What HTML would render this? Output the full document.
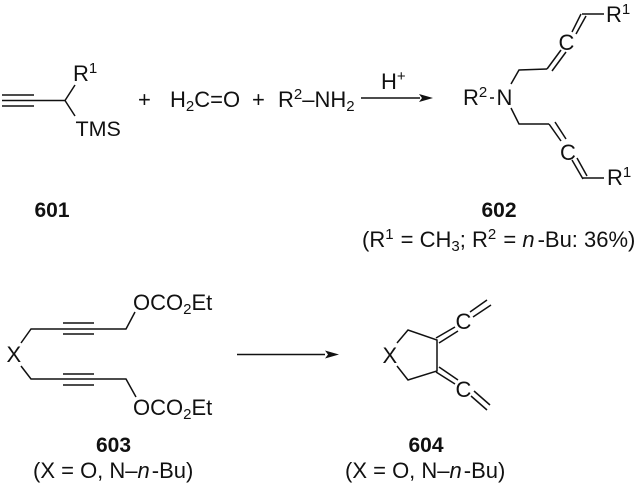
<!DOCTYPE html>
<html>
<head>
<meta charset="utf-8">
<style>
html,body{margin:0;padding:0;background:#fff;width:637px;height:486px;overflow:hidden}
svg{display:block}
text{font-family:"Liberation Sans",sans-serif;font-size:22px;fill:#111}
.b{font-weight:bold;font-size:21px}
.s{font-size:15px}
line,polyline{stroke:#111;stroke-width:1.5;fill:none}
</style>
</head>
<body>
<svg width="637" height="486" viewBox="0 0 637 486" xmlns="http://www.w3.org/2000/svg">
<!-- 601 -->
<line x1="2" y1="95" x2="34" y2="95"/>
<line x1="2" y1="100.500" x2="34" y2="100.500"/>
<line x1="2" y1="106" x2="34" y2="106"/>
<polyline points="34,100.500 65,100.500 75,85"/>
<line x1="65" y1="100.500" x2="75" y2="116"/>
<text x="73" y="81">R<tspan class="s" dy="-8">1</tspan></text>
<text x="75.500" y="136" style="font-size:21.500px">TMS</text>
<text x="138" y="107">+</text>
<text x="170" y="107">H<tspan class="s" dy="4">2</tspan><tspan dy="-4">C=O</tspan></text>
<text x="252" y="107">+</text>
<text x="278" y="107">R<tspan class="s" dy="-8">2</tspan><tspan dy="8">–NH</tspan><tspan class="s" dy="4">2</tspan></text>
<text x="34.500" y="217" class="b">601</text>
<!-- arrow 1 -->
<line x1="361" y1="98" x2="420" y2="98"/>
<polygon points="433,98 419,94 422,98 419,102" fill="#111"/>
<text x="381" y="89">H<tspan class="s" dy="-8">+</tspan></text>
<!-- 602 -->
<text x="463" y="105">R<tspan class="s" dy="-8">2</tspan></text>
<line x1="490" y1="98" x2="494" y2="98"/>
<text x="496.500" y="105">N</text>
<polyline points="511,84 519,70 547,69"/>
<line x1="547" y1="69" x2="561" y2="50"/>
<line x1="552" y1="71" x2="566" y2="52"/>
<text x="558.500" y="50">C</text>
<line x1="572" y1="32" x2="581" y2="14"/>
<line x1="576" y1="34" x2="586" y2="16"/>
<line x1="582" y1="14" x2="604" y2="14"/>
<text x="606" y="22">R<tspan class="s" dy="-8">1</tspan></text>
<polyline points="511,108 519,124 549,124"/>
<line x1="549" y1="124" x2="561" y2="141"/>
<line x1="555" y1="122" x2="566" y2="139"/>
<text x="560" y="160">C</text>
<line x1="572" y1="160" x2="583" y2="179"/>
<line x1="577" y1="158" x2="587" y2="176"/>
<line x1="583" y1="178" x2="604" y2="178"/>
<text x="607" y="185">R<tspan class="s" dy="-8">1</tspan></text>
<text x="481.500" y="217" class="b">602</text>
<text x="362" y="247">(R<tspan class="s" dy="-8">1</tspan><tspan dy="8" dx="1"> = CH</tspan><tspan class="s" dy="4">3</tspan><tspan dy="-4">; R</tspan><tspan class="s" dy="-8">2</tspan><tspan dy="8" dx="1"> = </tspan><tspan font-style="italic">n</tspan><tspan dx="3">-Bu: 36%)</tspan></text>
<!-- 603 -->
<text x="6.500" y="362">X</text>
<polyline points="21,343 31,329 126,329 135,312"/>
<polyline points="21,366 31,379 126,379 136,397"/>
<line x1="63" y1="323" x2="94" y2="323"/>
<line x1="63" y1="334" x2="94" y2="334"/>
<line x1="63" y1="374" x2="94" y2="374"/>
<line x1="63" y1="385" x2="94" y2="385"/>
<text x="133" y="310">OCO<tspan class="s" dy="4">2</tspan><tspan dy="-4">Et</tspan></text>
<text x="133" y="415">OCO<tspan class="s" dy="4">2</tspan><tspan dy="-4">Et</tspan></text>
<text x="96" y="452" class="b">603</text>
<text x="33" y="478">(X = O, N–<tspan font-style="italic">n</tspan><tspan dx="2">-Bu)</tspan></text>
<!-- arrow 2 -->
<line x1="237" y1="354.500" x2="325" y2="354.500"/>
<polygon points="339,354.500 325,350.500 328,354.500 325,358.500" fill="#111"/>
<!-- 604 -->
<text x="382.500" y="363">X</text>
<polyline points="397,343 408,330 437,340 437,371 408,380 397,366"/>
<line x1="436" y1="338" x2="455" y2="327"/>
<line x1="439" y1="343" x2="458" y2="331"/>
<line x1="470" y1="312" x2="487" y2="300"/>
<line x1="473" y1="317" x2="491" y2="305"/>
<text x="455.500" y="329">C</text>
<line x1="436" y1="372" x2="455" y2="384"/>
<line x1="439" y1="367" x2="458" y2="380"/>
<line x1="471" y1="396" x2="487" y2="410"/>
<line x1="474" y1="391" x2="490" y2="405"/>
<text x="455.500" y="397">C</text>
<text x="408.500" y="452" class="b">604</text>
<text x="345" y="478">(X = O, N–<tspan font-style="italic">n</tspan><tspan dx="2">-Bu)</tspan></text>
</svg>
</body>
</html>
